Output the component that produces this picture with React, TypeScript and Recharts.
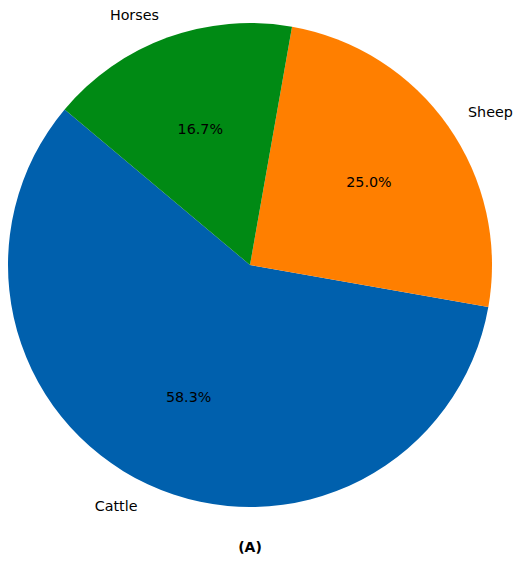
import React from 'react';
import { PieChart, Pie, Cell } from 'recharts';

const animals = ['Cattle', 'Sheep', 'Horses'];
const counts = [7, 3, 2];
const colors = ['#0060ad', '#ff7f00', '#008a14'];

const data = animals.map((name, i) => ({ name, value: counts[i] }));
const total = counts.reduce((a, b) => a + b, 0);

const RADIAN = Math.PI / 180;
const FONT = 'DejaVu Sans, sans-serif';

const renderLabel = (props: any) => {
	const { cx, cy, midAngle, outerRadius, name, value } = props;
	const cos = Math.cos(-midAngle * RADIAN);
	const sin = Math.sin(-midAngle * RADIAN);
	const ox = cx + outerRadius * 1.1 * cos;
	const oy = cy + outerRadius * 1.1 * sin;
	const ix = cx + outerRadius * 0.6 * cos;
	const iy = cy + outerRadius * 0.6 * sin;
	return (
		<g>
			<text x={ox} y={oy} textAnchor={cos >= 0 ? 'start' : 'end'} dominantBaseline='central' fill='#000' fontSize={14.3} fontFamily={FONT}>
				{name}
			</text>
			<text x={ix} y={iy} textAnchor='middle' dominantBaseline='central' fill='#000' fontSize={14.3} fontFamily={FONT}>
				{((value / total) * 100).toFixed(1)}%
			</text>
		</g>
	);
};

export default function App() {
	return (
		<div style={{ position: 'relative', width: 514, height: 561 }}>
			<style>{'body { margin: 0; }'}</style>
			<PieChart width={514} height={561} margin={{ top: 0, right: 0, bottom: 0, left: 0 }}>
				<Pie
					data={data}
					dataKey='value'
					nameKey='name'
					cx={250}
					cy={265}
					outerRadius={242}
					startAngle={140}
					endAngle={500}
					stroke='none'
					label={renderLabel}
					labelLine={false}
					isAnimationActive={false}
				>
					{data.map((d, i) => (
						<Cell key={d.name} fill={colors[i]} />
					))}
				</Pie>
			</PieChart>
			<div style={{ position: 'absolute', left: 0, width: 500, top: 539, textAlign: 'center', fontFamily: FONT, fontWeight: 'bold', fontSize: 14 }}>(A)</div>
		</div>
	);
}
